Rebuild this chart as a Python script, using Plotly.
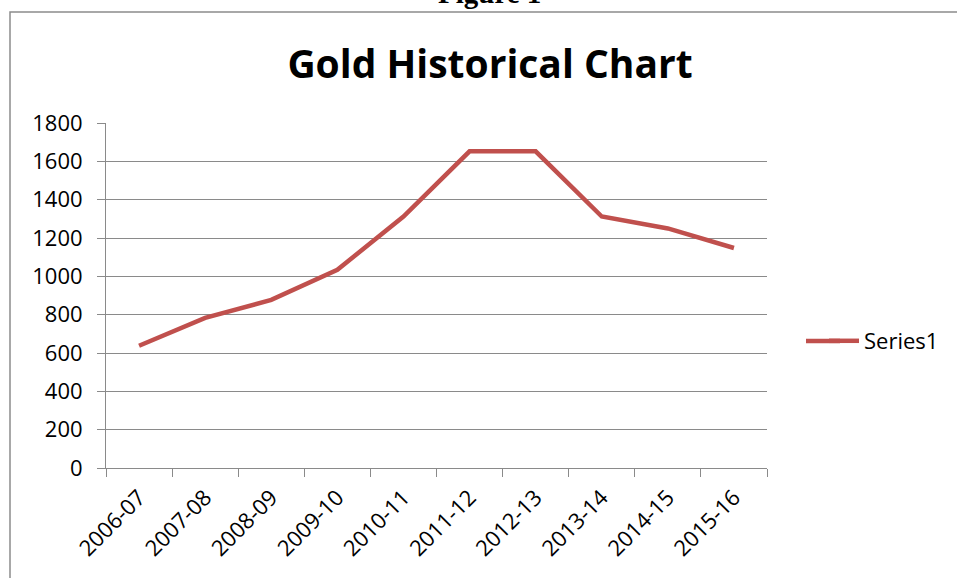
import plotly.graph_objects as go

categories = ["2006-07", "2007-08", "2008-09", "2009-10", "2010-11",
              "2011-12", "2012-13", "2013-14", "2014-15", "2015-16"]
values = [638, 783, 877, 1034, 1312, 1652, 1652, 1312, 1250, 1148]
y_ticks = [0, 200, 400, 600, 800, 1000, 1200, 1400, 1600, 1800]
series_name = "Series1"
chart_title = "Gold Historical Chart"
figure_caption = "Figure 1"

W, H = 957, 578
L, R, T, B = 106, 190, 123, 110
pw, ph = W - L - R, H - T - B

def px_x(x):
    return (x - L) / pw

def px_y(y):
    return (H - B - y) / ph

FONT = "Open Sans, Calibri, sans-serif"
GRID = "#8a8a8a"
LINE_COLOR = "#C0504D"

fig = go.Figure()
fig.add_trace(go.Scatter(
    x=categories, y=values, mode="lines", name=series_name,
    line=dict(color=LINE_COLOR, width=4.5),
    showlegend=True,
))

fig.update_layout(
    width=W, height=H,
    margin=dict(l=L, r=R, t=T, b=B, autoexpand=False),
    paper_bgcolor="white", plot_bgcolor="white",
    font=dict(family=FONT, size=22, color="black"),
    title=dict(text="<b>" + chart_title + "</b>",
               font=dict(family=FONT, size=39, color="black"),
               x=490 / W, xref="container", xanchor="center",
               y=1 - 64 / H, yref="container", yanchor="middle"),
    showlegend=True,
    legend=dict(x=px_x(824), xanchor="left", y=px_y(341), yanchor="middle",
                font=dict(family=FONT, size=22, color="black"),
                bgcolor="rgba(0,0,0,0)"),
    xaxis=dict(type="category", tickson="boundaries", ticks="outside",
               ticklen=8, tickcolor=GRID, tickwidth=1,
               showline=True, linecolor=GRID, linewidth=1,
               showgrid=False, tickangle=-45, ticklabelstandoff=7,
               range=[-0.5, len(categories) - 0.5],
               tickfont=dict(family=FONT, size=22)),
    yaxis=dict(range=[0, 1800], tickvals=y_ticks, ticks="outside",
               ticklen=8, tickcolor=GRID, tickwidth=1,
               showline=True, linecolor=GRID, linewidth=1,
               showgrid=True, gridcolor=GRID, gridwidth=1,
               zeroline=False, ticklabelstandoff=10,
               tickfont=dict(family=FONT, size=22)),
)

# outer frame of the figure container
fig.add_shape(type="rect", xref="paper", yref="paper",
              x0=px_x(10), x1=px_x(W + 20), y0=px_y(H + 20), y1=px_y(12),
              line=dict(color="#8c8c8c", width=1.5), fillcolor="rgba(0,0,0,0)",
              layer="below")

# longer legend key line (Excel-style legend sample)
fig.add_shape(type="line", xref="paper", yref="paper",
              x0=px_x(806), x1=px_x(840), y0=px_y(341), y1=px_y(341),
              line=dict(color=LINE_COLOR, width=4.5))

fig.add_annotation(text="<b>" + figure_caption + "</b>", xref="paper", yref="paper",
                   x=px_x(489), y=px_y(3), xanchor="center", yanchor="bottom",
                   yshift=-8, showarrow=False,
                   font=dict(family="Liberation Serif, Times New Roman, serif",
                             size=29, color="black"))

fig.write_html("out.html", config={"displayModeBar": False},
               post_script="document.body.style.margin='0';")
